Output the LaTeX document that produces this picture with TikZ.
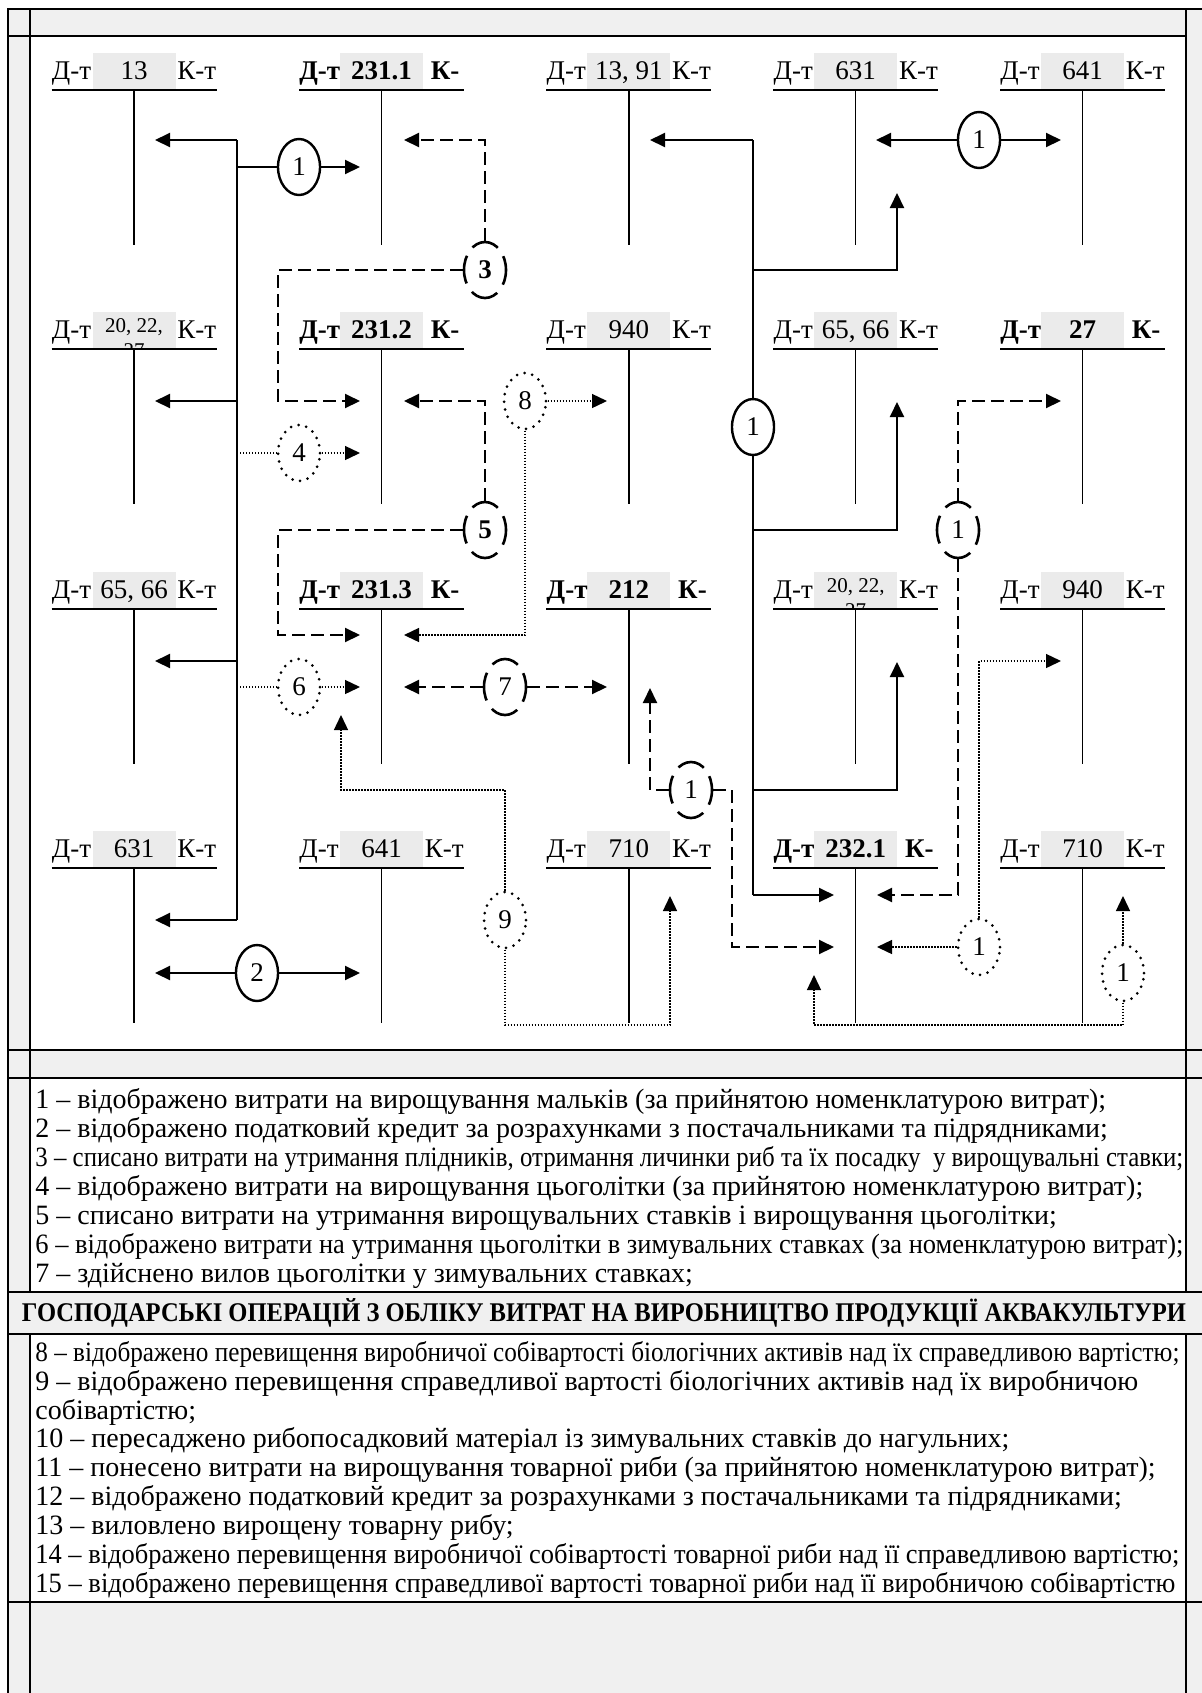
\documentclass[tikz,border=0pt]{standalone}
\usepackage{fontspec}
\usepackage{graphicx}
\setmainfont{Liberation Serif}
\usetikzlibrary{arrows.meta,shapes.geometric}
\definecolor{bandgray}{HTML}{F0F0F0}
\definecolor{boxgray}{HTML}{EBEBEB}
\newsavebox\fitbox
\newcommand\fitline[1]{\sbox\fitbox{#1}\ifdim\wd\fitbox>574pt\resizebox{574pt}{\height}{\usebox\fitbox}\else\usebox\fitbox\fi}
\tikzset{
  lbl/.style={font=\fontsize{13.5}{15}\selectfont, inner sep=0pt},
  blbl/.style={font=\fontsize{13.5}{15}\selectfont\bfseries, inner sep=0pt},
  smlbl/.style={font=\fontsize{10.5}{12.5}\selectfont, inner sep=0pt},
  uline/.style={line width=1pt},
  stem/.style={line width=0.75pt},
  conn/.style={line width=1pt},
  tip/.style={-{Triangle[length=7.5pt,width=7pt]}},
  dashc/.style={conn, dash pattern=on 6.5pt off 3pt},
  dotc/.style={line width=0.7pt, dash pattern=on 0.6pt off 0.9pt},
  ellbase/.style={ellipse, minimum width=21pt, minimum height=28pt, inner sep=0pt, fill=white, font=\fontsize{13.5}{15}\selectfont},
  ellS/.style={ellbase, draw, line width=1.2pt},
  ellD/.style={ellbase, draw, line width=1.3pt, dash pattern=on 14.2pt off 5pt, dash phase=7.1pt},
  ellP/.style={ellbase, draw, line width=1.5pt, line cap=round, dash pattern=on 0pt off 3.9pt},
  frame/.style={line width=1.2pt},
  leg/.style={font=\fontsize{14}{16}\selectfont, inner sep=0pt, anchor=base west},
}
\newcommand\TAcc[4]{%
  \fill[boxgray] ({#2-41.5},{#3-37}) rectangle ({#2+41.5},#3);
  \node[lbl,anchor=base] (#1n) at (#2,{#3-11}) {#4};
  \node[lbl,anchor=base west] (#1d) at ({#2-82.5},{#3-11}) {Д-т};
  \node[lbl,anchor=base east] (#1k) at ({#2+82.5},{#3-11}) {К-т};
  \draw[uline] ({#2-82.5},#3) -- ({#2+82.5},#3);
  \draw[stem] (#2,#3) -- (#2,{#3+155});
}
\newcommand\TAccB[4]{%
  \fill[boxgray] ({#2-41.5},{#3-37}) rectangle ({#2+41.5},#3);
  \node[blbl,anchor=base] (#1n) at (#2,{#3-11}) {#4};
  \node[blbl,anchor=base west] (#1d) at ({#2-82.5},{#3-11}) {Д-т};
  \node[blbl,anchor=base west] (#1k) at ({#2+49},{#3-11}) {К-};
  \draw[uline] ({#2-82.5},#3) -- ({#2+82.5},#3);
  \draw[stem] (#2,#3) -- (#2,{#3+155});
}
\newcommand\TAccS[3]{%
  \fill[boxgray] ({#2-41.5},{#3-37}) rectangle ({#2+41.5},#3);
  \begin{scope}
    \clip ({#2-41.5},{#3-37}) rectangle ({#2+41.5},#3);
    \node[smlbl,anchor=base] (#1n) at (#2,{#3-17}) {20, 22,};
    \node[smlbl,anchor=base] (#1m) at (#2,{#3+8}) {27};
  \end{scope}
  \node[lbl,anchor=base west] (#1d) at ({#2-82.5},{#3-11}) {Д-т};
  \node[lbl,anchor=base east] (#1k) at ({#2+82.5},{#3-11}) {К-т};
  \draw[uline] ({#2-82.5},#3) -- ({#2+82.5},#3);
  \draw[stem] (#2,#3) -- (#2,{#3+155});
}
\begin{document}
\begin{tikzpicture}[x=0.5pt,y=-0.5pt]
\useasboundingbox (0,0) rectangle (1202,1693);
% ---------- frame ----------
\def\Ya{1292}\def\Yb{1334}\def\Yc{1602}
\fill[bandgray] (8,9) rectangle (1202,1693);
\fill[white] (30,36) rectangle (1186,1050);
\fill[white] (30,1078) rectangle (1186,\Ya);
\fill[white] (30,\Yb) rectangle (1186,\Yc);
\draw[frame] (8,1693) -- (8,9) -- (1202,9);
\draw[frame] (8,36) -- (1186,36);
\draw[frame] (30,9) -- (30,\Ya);
\draw[frame] (30,\Yb) -- (30,1693);
\draw[frame] (1186,9) -- (1186,\Ya);
\draw[frame] (1186,\Yb) -- (1186,1693);
\draw[frame] (8,1050) -- (1202,1050);
\draw[frame] (8,1078) -- (1202,1078);
\draw[frame] (8,\Ya) -- (1202,\Ya);
\draw[frame] (8,\Yb) -- (1202,\Yb);
\draw[frame] (8,\Yc) -- (1202,\Yc);
% ---------- T-accounts ----------
\TAcc{a11}{134}{90}{13}
\TAccB{a12}{381.5}{90}{231.1}
\TAcc{a13}{628.8}{90}{13, 91}
\TAcc{a14}{855.7}{90}{631}
\TAcc{a15}{1082.5}{90}{641}
\TAccS{a21}{134}{349}
\TAccB{a22}{381.5}{349}{231.2}
\TAcc{a23}{628.8}{349}{940}
\TAcc{a24}{855.7}{349}{65, 66}
\TAccB{a25}{1082.5}{349}{27}
\TAcc{a31}{134}{609}{65, 66}
\TAccB{a32}{381.5}{609}{231.3}
\TAccB{a33}{628.8}{609}{212}
\TAccS{a34}{855.7}{609}
\TAcc{a35}{1082.5}{609}{940}
\TAcc{a41}{134}{868}{631}
\TAcc{a42}{381.5}{868}{641}
\TAcc{a43}{628.8}{868}{710}
\TAccB{a44}{855.7}{868}{232.1}
\TAcc{a45}{1082.5}{868}{710}
% ---------- ellipses ----------
\node[ellS] (e1a) at (299,167) {1};
\node[ellS] (e1b) at (753,427) {1};
\node[ellS] (e1c) at (979,140) {1};
\node[ellS] (e2) at (257,973) {2};
\node[ellD,font=\fontsize{13.5}{15}\selectfont\bfseries] (e3) at (485,270) {3};
\node[ellD,font=\fontsize{13.5}{15}\selectfont\bfseries] (e5) at (485,530) {5};
\node[ellD] (e7) at (505,687) {7};
\node[ellD] (e1d) at (691,790) {1};
\node[ellD] (e1e) at (958,530) {1};
\node[ellP] (e4) at (299,453) {4};
\node[ellP] (e6) at (299,687) {6};
\node[ellP] (e8) at (525,401) {8};
\node[ellP] (e9) at (505,920) {9};
\node[ellP] (e1f) at (979,947) {1};
\node[ellP] (e1g) at (1123,973) {1};
% ---------- solid group A ----------
\coordinate (Atop) at (237,140);
\coordinate (Aj1) at (237,167);
\coordinate (Aj2) at (237,401);
\coordinate (Aj3) at (237,661);
\coordinate (Aj4) at (237,920);
\coordinate (Aj5) at (237,453);
\coordinate (Aj6) at (237,687);
\coordinate (tA1) at (155,140);
\coordinate (tA2) at (155,401);
\coordinate (tA3) at (155,661);
\coordinate (tA4) at (155,920);
\coordinate (tA5) at (360,167);
\draw[conn] (Atop) -- (Aj4);
\draw[conn,tip] (Atop) -- (tA1);
\draw[conn,tip] (Aj2) -- (tA2);
\draw[conn,tip] (Aj3) -- (tA3);
\draw[conn,tip] (Aj4) -- (tA4);
\draw[conn] (Aj1) -- (e1a);
\draw[conn,tip] (e1a) -- (tA5);
% ---------- solid group B ----------
\coordinate (Btop) at (753,140);
\coordinate (Bj1) at (753,270);
\coordinate (Bj2) at (753,530);
\coordinate (Bj3) at (753,790);
\coordinate (Bbot) at (753,895);
\coordinate (Bc1) at (897,270);
\coordinate (Bc2) at (897,530);
\coordinate (Bc3) at (897,790);
\coordinate (tB0) at (650,140);
\coordinate (tB1) at (897,193);
\coordinate (tB2) at (897,402);
\coordinate (tB3) at (897,662);
\coordinate (tB4) at (834,895);
\draw[conn] (Btop) -- (e1b);
\draw[conn] (e1b) -- (Bbot);
\draw[conn,tip] (Btop) -- (tB0);
\draw[conn,tip] (Bj1) -- (Bc1) -- (tB1);
\draw[conn,tip] (Bj2) -- (Bc2) -- (tB2);
\draw[conn,tip] (Bj3) -- (Bc3) -- (tB3);
\draw[conn,tip] (Bbot) -- (tB4);
% ---------- solid 1 (631-641), 2 ----------
\coordinate (tC1) at (876,140);
\coordinate (tC2) at (1061,140);
\draw[conn,tip] (e1c) -- (tC1);
\draw[conn,tip] (e1c) -- (tC2);
\coordinate (t2a) at (155,973);
\coordinate (t2b) at (360,973);
\draw[conn,tip] (e2) -- (t2a);
\draw[conn,tip] (e2) -- (t2b);
% ---------- dashed 3 ----------
\coordinate (c3a) at (485,140);
\coordinate (t3a) at (404,140);
\coordinate (c3b) at (278,270);
\coordinate (c3c) at (278,401);
\coordinate (t3b) at (360,401);
\draw[dashc,tip] (e3) -- (c3a) -- (t3a);
\draw[dashc,tip] (e3) -- (c3b) -- (c3c) -- (t3b);
% ---------- dashed 5 ----------
\coordinate (c5a) at (485,401);
\coordinate (t5a) at (404,401);
\coordinate (c5b) at (278,530);
\coordinate (c5c) at (278,635);
\coordinate (t5b) at (360,635);
\draw[dashc,tip] (e5) -- (c5a) -- (t5a);
\draw[dashc,tip] (e5) -- (c5b) -- (c5c) -- (t5b);
% ---------- dotted 4, 6 ----------
\coordinate (t4) at (360,453);
\coordinate (t6) at (360,687);
\draw[dotc] (Aj5) -- (e4);
\draw[dotc,tip] (e4) -- (t4);
\draw[dotc] (Aj6) -- (e6);
\draw[dotc,tip] (e6) -- (t6);
% ---------- dotted 8 ----------
\coordinate (t8a) at (607,401);
\coordinate (c8) at (525,635);
\coordinate (t8b) at (404,635);
\draw[dotc,tip] (e8) -- (t8a);
\draw[dotc,tip] (e8) -- (c8) -- (t8b);
% ---------- dashed 7 ----------
\coordinate (t7a) at (404,687);
\coordinate (t7b) at (607,687);
\draw[dashc,tip] (e7) -- (t7a);
\draw[dashc,tip] (e7) -- (t7b);
% ---------- dotted 9 ----------
\coordinate (c9a) at (505,790);
\coordinate (c9b) at (341,790);
\coordinate (t9a) at (341,715);
\coordinate (c9c) at (505,1025);
\coordinate (c9d) at (670,1025);
\coordinate (t9b) at (670,896);
\draw[dotc,tip] (e9) -- (c9a) -- (c9b) -- (t9a);
\draw[dotc,tip] (e9) -- (c9c) -- (c9d) -- (t9b);
% ---------- dashed 1 (212) ----------
\coordinate (cda) at (650,790);
\coordinate (tda) at (650,688);
\coordinate (cdb) at (732,790);
\coordinate (cdc) at (732,947);
\coordinate (tdb) at (834,947);
\draw[dashc,tip] (e1d) -- (cda) -- (tda);
\draw[dashc,tip] (e1d) -- (cdb) -- (cdc) -- (tdb);
% ---------- dashed 1 (27) ----------
\coordinate (cea) at (958,401);
\coordinate (tea) at (1061,401);
\coordinate (ceb) at (958,895);
\coordinate (teb) at (877,895);
\draw[dashc,tip] (e1e) -- (cea) -- (tea);
\draw[dashc,tip] (e1e) -- (ceb) -- (teb);
% ---------- dotted 1 (940) ----------
\coordinate (tfa) at (877,947);
\coordinate (cfb) at (979,661);
\coordinate (tfb) at (1061,661);
\draw[dotc,tip] (e1f) -- (tfa);
\draw[dotc,tip] (e1f) -- (cfb) -- (tfb);
% ---------- dotted 1 (710) ----------
\coordinate (tga) at (1123,896);
\coordinate (cgb) at (1123,1025);
\coordinate (cgc) at (814,1025);
\coordinate (tgb) at (814,975);
\draw[dotc,tip] (e1g) -- (tga);
\draw[dotc,tip] (e1g) -- (cgb) -- (cgc) -- (tgb);
% ---------- legend ----------
\node[leg] (l1) at (35,1108) {\fitline{1 – відображено витрати на вирощування мальків (за прийнятою номенклатурою витрат);}};
\node[leg] (l2) at (35,1137) {\fitline{2 – відображено податковий кредит за розрахунками з постачальниками та підрядниками;}};
\node[leg] (l3) at (35,1166) {\resizebox{574pt}{\height}{3 – списано витрати на утримання плідників, отримання личинки риб та їх посадку~ у вирощувальні ставки;}};
\node[leg] (l4) at (35,1195) {\fitline{4 – відображено витрати на вирощування цьоголітки (за прийнятою номенклатурою витрат);}};
\node[leg] (l5) at (35,1224) {\fitline{5 – списано витрати на утримання вирощувальних ставків і вирощування цьоголітки;}};
\node[leg] (l6) at (35,1253) {\fitline{6 – відображено витрати на утримання цьоголітки в зимувальних ставках (за номенклатурою витрат);}};
\node[leg] (l7) at (35,1282) {\fitline{7 – здійснено вилов цьоголітки у зимувальних ставках;}};
\node[font=\fontsize{13.5}{16}\selectfont\bfseries, inner sep=0pt] (title) at (604,1313) {\resizebox{582pt}{\height}{ГОСПОДАРСЬКІ ОПЕРАЦІЙ З ОБЛІКУ ВИТРАТ НА ВИРОБНИЦТВО ПРОДУКЦІЇ АКВАКУЛЬТУРИ}};
\node[leg] (l8) at (35,1361) {\resizebox{572pt}{\height}{8 – відображено перевищення виробничої собівартості біологічних активів над їх справедливою вартістю;}};
\node[leg] (l9) at (35,1390) {\fitline{9 – відображено перевищення справедливої вартості біологічних активів над їх виробничою}};
\node[leg] (l9b) at (35,1419) {собівартістю;};
\node[leg] (l10) at (35,1447) {\fitline{10 – пересаджено рибопосадковий матеріал із зимувальних ставків до нагульних;}};
\node[leg] (l11) at (35,1476) {\fitline{11 – понесено витрати на вирощування товарної риби (за прийнятою номенклатурою витрат);}};
\node[leg] (l12) at (35,1505) {\fitline{12 – відображено податковий кредит за розрахунками з постачальниками та підрядниками;}};
\node[leg] (l13) at (35,1534) {\fitline{13 – виловлено вирощену товарну рибу;}};
\node[leg] (l14) at (35,1563) {\resizebox{572pt}{\height}{14 – відображено перевищення виробничої собівартості товарної риби над її справедливою вартістю;}};
\node[leg] (l15) at (35,1592) {\resizebox{570pt}{\height}{15 – відображено перевищення справедливої вартості товарної риби над її виробничою собівартістю}};
\end{tikzpicture}
\end{document}
